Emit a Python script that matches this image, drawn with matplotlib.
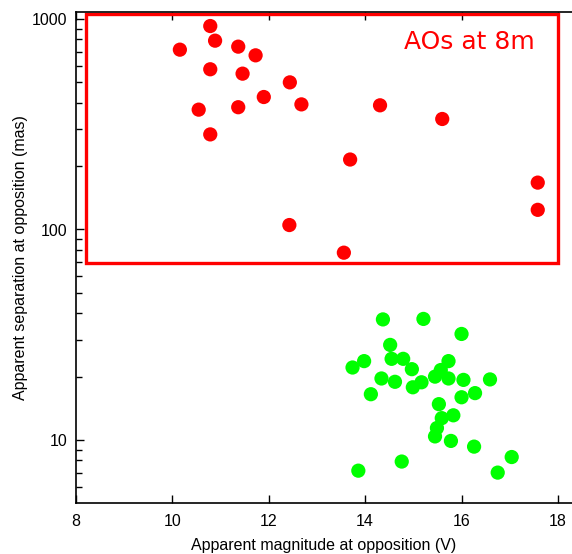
import matplotlib
matplotlib.use("Agg")
import matplotlib.pyplot as plt
from matplotlib.patches import Rectangle
from matplotlib.ticker import LogLocator, NullFormatter, FixedLocator

plt.rcParams['font.family'] = ['Liberation Sans', 'DejaVu Sans']

# Red points: AOs at 8m
red_mag = [10.16, 10.79, 10.89, 11.37, 11.73, 10.79, 11.46, 12.44, 11.90, 10.55,
           11.37, 12.68, 14.31, 10.79, 15.60, 13.69, 12.43, 13.56, 17.58, 17.58]
red_sep = [715, 926, 789, 739, 672, 577, 550, 500, 426, 371,
           381, 393, 389, 283, 335, 215, 105, 77.6, 167, 124]

# Green points
green_mag = [14.37, 15.21, 16.00, 14.52, 13.98, 13.74, 14.55, 14.79, 14.97, 14.34,
             14.62, 14.12, 14.99, 15.17, 15.45, 15.57, 15.73, 15.73, 16.04, 16.59,
             16.00, 16.28, 15.53, 15.83, 15.59, 15.49, 15.45, 15.78, 16.26, 14.76,
             13.86, 17.04, 16.75]
green_sep = [37.4, 37.6, 31.9, 28.3, 23.7, 22.1, 24.3, 24.3, 21.7, 19.6,
             18.9, 16.5, 17.8, 18.8, 20.0, 21.5, 23.7, 19.6, 19.3, 19.4,
             15.96, 16.7, 14.8, 13.1, 12.7, 11.4, 10.4, 9.9, 9.3, 7.9,
             7.15, 8.3, 7.0]

x_ticks = [8, 10, 12, 14, 16, 18]
y_ticks = [10, 100, 1000]
y_ticklabels = ['10', '100', '1000']

box_x = (8.21, 17.99)
box_y = (69, 1056)
box_label = "AOs at 8m"

fig = plt.figure(figsize=(5.72, 5.54), dpi=100)
ax = fig.add_axes([75.7/572, (554-503.3)/554, (572-75.7)/572, (503.3-11.7)/554])

ax.set_yscale('log')
ax.set_xlim(8, 8 + (572 - 75.7) / 48.23)
ax.set_ylim(10 ** (1 - (503.3 - 440) / 210.5), 10 ** (3 + (19 - 11.7) / 210.5))

ax.scatter(red_mag, red_sep, s=105, color='#ff0000', edgecolors='none', zorder=3)
ax.scatter(green_mag, green_sep, s=105, color='#00ff00', edgecolors='none', zorder=3)

ax.add_patch(Rectangle((box_x[0], box_y[0]), box_x[1] - box_x[0], box_y[1] - box_y[0],
                       fill=False, edgecolor='#ff0000', linewidth=2.4, zorder=2))
ax.text(14.81, 777, box_label, color='#ff0000', fontsize=18, family='DejaVu Sans',
        ha='left', va='center')

ax.xaxis.set_major_locator(FixedLocator(x_ticks))
ax.set_xticklabels([str(t) for t in x_ticks])
ax.yaxis.set_major_locator(FixedLocator(y_ticks))
ax.set_yticklabels(y_ticklabels)
ax.yaxis.set_minor_locator(LogLocator(base=10, subs=range(2, 10)))
ax.yaxis.set_minor_formatter(NullFormatter())

ax.tick_params(which='both', direction='in', top=True, right=False, labelsize=11.5, colors='black')
ax.tick_params(which='major', length=6, width=1)
ax.tick_params(which='minor', length=4, width=1)
ax.spines['right'].set_visible(False)
for s in ['left', 'bottom', 'top']:
    ax.spines[s].set_linewidth(1.2)
ax.tick_params(axis='x', pad=8)
ax.tick_params(axis='y', pad=6)

ax.set_xlabel('Apparent magnitude at opposition (V)', fontsize=11.5, labelpad=6)
ax.set_ylabel('Apparent separation at opposition (mas)', fontsize=11.5, labelpad=3)

fig.savefig('out.png', dpi=100)
